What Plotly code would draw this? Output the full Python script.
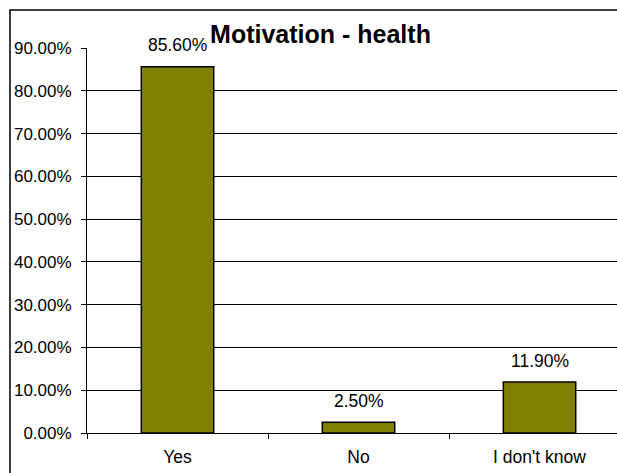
import plotly.graph_objects as go

categories = ["Yes", "No", "I don't know"]
values = [0.856, 0.025, 0.119]
value_labels = ["85.60%", "2.50%", "11.90%"]
y_ticks = [0, 0.1, 0.2, 0.3, 0.4, 0.5, 0.6, 0.7, 0.8, 0.9]

FONT = "Liberation Sans, Arial, sans-serif"
W, H = 617, 473
ML, MR, MT, MB = 87, 0, 48, 40

fig = go.Figure()
fig.add_trace(go.Bar(
    x=categories, y=values, width=0.4,
    marker=dict(color="#808000", line=dict(color="#000000", width=1.5)),
    hoverinfo="skip",
))

for c, v, t in zip(categories, values, value_labels):
    fig.add_annotation(x=c, y=v, text=t, showarrow=False, yanchor="middle",
                       yshift=21.5, font=dict(family=FONT, size=17.5, color="#000"))

pw = W - ML - MR
ph = H - MT - MB
fig.add_shape(type="rect", xref="paper", yref="paper",
              x0=(10 - ML) / pw, x1=1.2, y0=-0.3, y1=(H - MB - 10) / ph,
              line=dict(color="#000", width=1.5), fillcolor="rgba(0,0,0,0)", layer="above")

fig.update_layout(
    width=W, height=H,
    margin=dict(l=ML, r=MR, t=MT, b=MB, pad=0),
    paper_bgcolor="white", plot_bgcolor="white",
    showlegend=False,
    font=dict(family=FONT, size=17.5, color="#000"),
    title=dict(text="<b>Motivation - health</b>", x=(320.5) / W, xanchor="center",
               y=1 - 34 / H, yanchor="middle",
               font=dict(family=FONT, size=25, color="#000")),
    xaxis=dict(type="category", range=[-0.5, 2.428], tickson="boundaries",
               ticks="outside", ticklen=5, tickcolor="#000", tickwidth=1,
               showline=True, linecolor="#000", linewidth=1, showgrid=False,
               ticklabelstandoff=8, tickfont=dict(family=FONT, size=17.5, color="#000")),
    yaxis=dict(range=[0, 0.9], tickvals=y_ticks, tickformat=".2%",
               ticks="outside", ticklen=5, tickcolor="#000", tickwidth=1,
               showline=True, linecolor="#000", linewidth=1,
               showgrid=True, gridcolor="#000", gridwidth=1, zeroline=False,
               ticklabelstandoff=6, tickfont=dict(family=FONT, size=17, color="#000")),
)

fig.write_html("out.html", config={"displayModeBar": False},
               post_script="document.body.style.margin='0';document.body.style.overflow='hidden';")
